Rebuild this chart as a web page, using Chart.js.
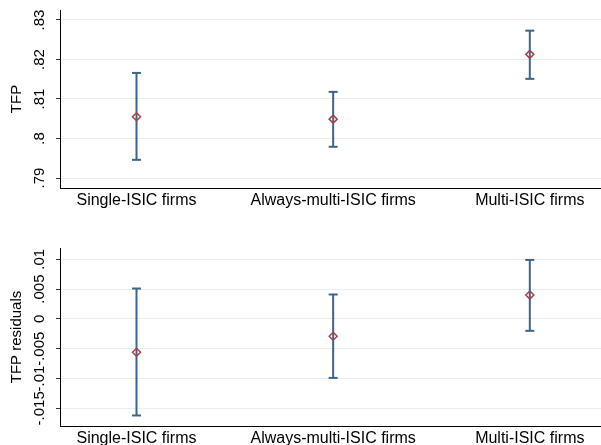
<!DOCTYPE html>
<html>
<head>
<meta charset="utf-8">
<script src="https://cdn.jsdelivr.net/npm/chart.js@4.4.1/dist/chart.umd.min.js"></script>
<style>
  html, body { margin: 0; padding: 0; background: #fff; overflow: hidden; }
  canvas { display: block; }
</style>
</head>
<body>
<canvas id="top" width="601" height="222"></canvas>
<canvas id="bottom" width="601" height="223"></canvas>
<script>
// Categories on the x axis (placed at 1, 2, 3)
const categories = ['Single-ISIC firms', 'Always-multi-ISIC firms', 'Multi-ISIC firms'];

// Top panel: TFP means with CI bounds
const tfpMean = [0.8055, 0.8049, 0.8213];
const tfpLow  = [0.7946, 0.7979, 0.8151];
const tfpHigh = [0.8166, 0.8118, 0.8273];
const tfpTicks = [0.79, 0.80, 0.81, 0.82, 0.83];
const tfpTickLabels = ['.79', '.8', '.81', '.82', '.83'];

// Bottom panel: TFP residuals
const resMean = [-0.0056, -0.0029, 0.0040];
const resLow  = [-0.0162, -0.0099, -0.0020];
const resHigh = [0.0051, 0.0041, 0.0099];
const resTicks = [-0.015, -0.01, -0.005, 0, 0.005, 0.01];
const resTickLabels = ['-.015', '-.01', '-.005', '0', '.005', '.01'];

const FONT = "'Liberation Sans', Arial, Helvetica, sans-serif";
const BAR = '#3d6589';
const MARK = '#a9404a';
const GRID = '#e6eef1';

// rotated y tick labels, Stata style
const yLabelPlugin = {
    id: 'yLabels',
    afterDraw(chart, args, opts) {
        const s = chart.scales.y, ctx = chart.ctx;
        ctx.save();
        ctx.font = '15px ' + FONT;
        ctx.fillStyle = '#000';
        ctx.textAlign = 'center';
        ctx.textBaseline = 'middle';
        opts.ticks.forEach((v, i) => {
            ctx.save();
            ctx.translate(opts.x, s.getPixelForValue(v));
            ctx.rotate(-Math.PI / 2);
            ctx.fillText(opts.labels[i], 0, 0);
            ctx.restore();
        });
        ctx.restore();
    }
};

function panel(id, means, lows, highs, ticks, tickLabels, title, yMin, yMax, padTop, xAxisH) {
    const datasets = [{
        type: 'scatter',
        data: means.map((m, i) => ({ x: i + 1, y: m })),
        pointStyle: 'rectRot',
        pointRadius: 4,
        borderWidth: 1.5,
        borderColor: MARK,
        backgroundColor: 'rgba(0,0,0,0)',
        order: 0,
    }];
    categories.forEach((c, i) => {
        datasets.push({
            type: 'line',
            data: [{ x: i + 1, y: lows[i] }, { x: i + 1, y: highs[i] }],
            borderColor: BAR,
            borderWidth: 2,
            pointStyle: 'line',
            pointRadius: 4.5,
            pointBorderWidth: 2,
            pointBorderColor: BAR,
            order: 1,
        });
    });
    return new Chart(document.getElementById(id), {
        data: { datasets },
        options: {
            responsive: false,
            animation: false,
            events: [],
            layout: { autoPadding: false, padding: { top: padTop, left: 0, right: 0, bottom: 0 } },
            plugins: {
                legend: { display: false },
                tooltip: { enabled: false },
                yLabels: { ticks, labels: tickLabels, x: 40 },
            },
            scales: {
                x: {
                    type: 'linear',
                    min: 0.611, max: 3.362,
                    afterBuildTicks: s => { s.ticks = categories.map((c, i) => ({ value: i + 1 })); },
                    afterFit: s => { s.height = xAxisH; s.paddingLeft = 0; s.paddingRight = 0; },
                    grid: { display: false },
                    border: { display: true, color: '#000', width: 1 },
                    ticks: {
                        callback: v => categories[v - 1],
                        color: '#000',
                        font: { family: FONT, size: 16 },
                        padding: -5,
                        maxRotation: 0,
                        autoSkip: false,
                    },
                },
                y: {
                    min: yMin, max: yMax,
                    afterBuildTicks: s => { s.ticks = ticks.map(v => ({ value: v })); },
                    afterFit: s => { s.width = 60; s.paddingTop = 0; s.paddingBottom = 0; },
                    grid: { color: GRID, lineWidth: 1, tickLength: 4, tickColor: '#333' },
                    border: { display: true, color: '#000', width: 1 },
                    ticks: { display: false },
                    title: {
                        display: true, text: title, color: '#000',
                        font: { family: FONT, size: 15 },
                        padding: { top: 8, bottom: 0 },
                    },
                },
            },
        },
        plugins: [yLabelPlugin],
    });
}

panel('top', tfpMean, tfpLow, tfpHigh, tfpTicks, tfpTickLabels, 'TFP', 0.78747, 0.83253, 10, 34);
panel('bottom', resMean, resLow, resHigh, resTicks, resTickLabels, 'TFP residuals', -0.01797, 0.0119, 26, 19);
</script>
</body>
</html>
